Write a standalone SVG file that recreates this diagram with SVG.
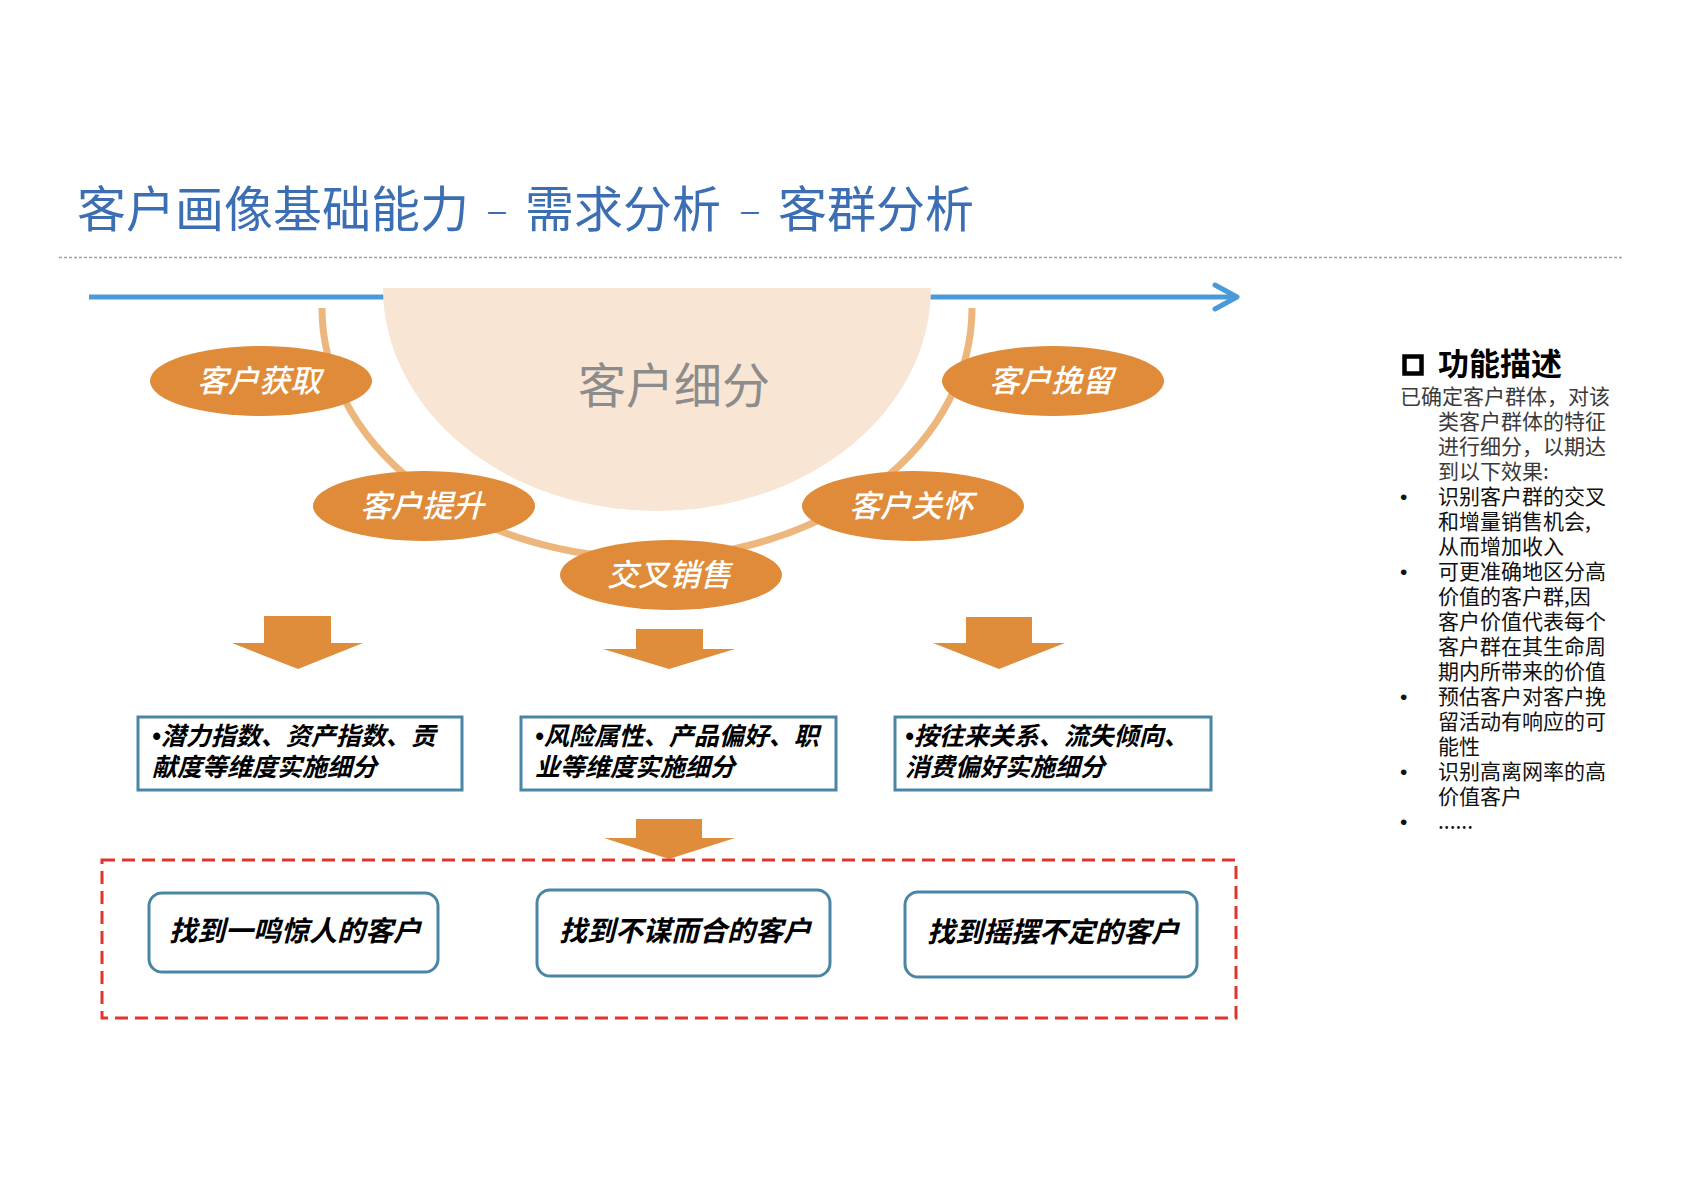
<svg xmlns="http://www.w3.org/2000/svg" width="1684" height="1190" viewBox="0 0 1684 1190">
<style>
.cjk{font-family:'Noto Sans CJK SC','Noto Sans',sans-serif}
.title{font-size:49px;fill:#3c6eb4}
.dash{font-family:'Liberation Sans',sans-serif;font-size:32px;fill:#3c6eb4;text-anchor:middle}
.core{font-size:48px;fill:#8c8c8c}
.oval{fill:#df8b3a}
.ovtxt{font-size:31px;fill:#ffffff;font-style:italic;font-weight:500;text-anchor:middle}
.box{fill:#ffffff;stroke:#4a86a4;stroke-width:3}
.btxt{font-size:25px;font-weight:bold;font-style:italic;fill:#000}
.rtxt{font-size:28px;font-weight:bold;font-style:italic;fill:#000;text-anchor:middle}
.down{fill:#df8c3b}
.desc{font-size:21px;fill:#111}
.desc0{font-size:21px;fill:#3a3a3a}
.bul{font-family:'Liberation Sans',sans-serif}
</style>
<rect width="1684" height="1190" fill="#ffffff"/>
<g id="title">
<text class="cjk title" x="77" y="227">客户画像基础能力</text>
<text class="dash" x="497" y="221">–</text>
<text class="cjk title" x="525" y="227">需求分析</text>
<text class="dash" x="750" y="221">–</text>
<text class="cjk title" x="778" y="227">客群分析</text>
<line x1="59" y1="257.5" x2="1624" y2="257.5" stroke="#a0a0a8" stroke-width="1.5" stroke-dasharray="3 2"/>
</g>
<g id="connectors">
<line x1="89" y1="297" x2="1234" y2="297" stroke="#4b9ad8" stroke-width="5"/>
<polyline points="1215,285 1237,297 1215,309" fill="none" stroke="#4b9ad8" stroke-width="5" stroke-linecap="round" stroke-linejoin="round"/>
<path d="M322,308 A325,250 0 0 0 972,308" fill="none" stroke="#ecb67d" stroke-width="7"/>
<polygon class="down" points="264,616 331,616 331,643 363,643 298,669 232,643 264,643"/>
<polygon class="down" points="636,629 703,629 703,649 735,649 669,669 603,649 636,649"/>
<polygon class="down" points="966,617 1032,617 1032,643 1065,643 999,669 933,643 966,643"/>
<polygon class="down" points="636,819 702,819 702,838 735,838 669,859 604,838 636,838"/>
</g>
<g id="core">
<path d="M383,288 L931,288 A274,223 0 0 1 383,288 Z" fill="#f9e5d4"/>
<text class="cjk core" x="674" y="403" text-anchor="middle">客户细分</text>
</g>
<g id="acquire"><ellipse class="oval" cx="261" cy="381" rx="111" ry="35"/><text class="cjk ovtxt" x="259" y="392">客户获取</text></g>
<g id="upgrade"><ellipse class="oval" cx="424" cy="506" rx="111" ry="35"/><text class="cjk ovtxt" x="422" y="517">客户提升</text></g>
<g id="cross"><ellipse class="oval" cx="671" cy="575" rx="111" ry="35"/><text class="cjk ovtxt" x="669" y="586">交叉销售</text></g>
<g id="care"><ellipse class="oval" cx="913" cy="506" rx="111" ry="35"/><text class="cjk ovtxt" x="911" y="517">客户关怀</text></g>
<g id="retain"><ellipse class="oval" cx="1053" cy="381" rx="111" ry="35"/><text class="cjk ovtxt" x="1051" y="392">客户挽留</text></g>
<g id="box1"><rect class="box" x="138" y="717" width="324" height="73"/>
<text class="cjk btxt"><tspan x="152" y="745"><tspan class="bul">•</tspan>潜力指数、资产指数、贡</tspan><tspan x="152" y="776">献度等维度实施细分</tspan></text></g>
<g id="box2"><rect class="box" x="521" y="717" width="315" height="73"/>
<text class="cjk btxt"><tspan x="535" y="745"><tspan class="bul">•</tspan>风险属性、产品偏好、职</tspan><tspan x="535" y="776">业等维度实施细分</tspan></text></g>
<g id="box3"><rect class="box" x="895" y="717" width="316" height="73"/>
<text class="cjk btxt"><tspan x="905" y="745"><tspan class="bul">•</tspan>按往来关系、流失倾向、</tspan><tspan x="905" y="776">消费偏好实施细分</tspan></text></g>
<g id="result">
<rect x="102" y="860" width="1134" height="158" fill="none" stroke="#e0342c" stroke-width="3" stroke-dasharray="13 7"/>
</g>
<g id="r1"><rect class="box" x="149" y="893" width="289" height="79" rx="13"/><text class="cjk rtxt" x="295" y="941">找到一鸣惊人的客户</text></g>
<g id="r2"><rect class="box" x="537" y="890" width="293" height="86" rx="13"/><text class="cjk rtxt" x="685" y="941">找到不谋而合的客户</text></g>
<g id="r3"><rect class="box" x="905" y="892" width="292" height="85" rx="13"/><text class="cjk rtxt" x="1053" y="942">找到摇摆不定的客户</text></g>
<g id="desc">
<rect x="1404.5" y="356.5" width="17" height="17" fill="none" stroke="#000" stroke-width="4.5"/>
<text class="cjk" x="1438" y="375" font-size="31" font-weight="bold" fill="#000">功能描述</text>
<text class="cjk desc0" x="1400" y="404">已确定客户群体，对该</text>
<text class="cjk desc0" x="1438" y="429">类客户群体的特征</text>
<text class="cjk desc0" x="1438" y="454">进行细分，以期达</text>
<text class="cjk desc0" x="1438" y="479">到以下效果:</text>
<text class="cjk desc" y="504"><tspan class="bul" x="1400">•</tspan><tspan x="1438">识别客户群的交叉</tspan></text>
<text class="cjk desc" x="1438" y="529">和增量销售机会,</text>
<text class="cjk desc" x="1438" y="554">从而增加收入</text>
<text class="cjk desc" y="579"><tspan class="bul" x="1400">•</tspan><tspan x="1438">可更准确地区分高</tspan></text>
<text class="cjk desc" x="1438" y="604">价值的客户群,因</text>
<text class="cjk desc" x="1438" y="629">客户价值代表每个</text>
<text class="cjk desc" x="1438" y="654">客户群在其生命周</text>
<text class="cjk desc" x="1438" y="679">期内所带来的价值</text>
<text class="cjk desc" y="704"><tspan class="bul" x="1400">•</tspan><tspan x="1438">预估客户对客户挽</tspan></text>
<text class="cjk desc" x="1438" y="729">留活动有响应的可</text>
<text class="cjk desc" x="1438" y="754">能性</text>
<text class="cjk desc" y="779"><tspan class="bul" x="1400">•</tspan><tspan x="1438">识别高离网率的高</tspan></text>
<text class="cjk desc" x="1438" y="804">价值客户</text>
<text class="cjk desc" y="829"><tspan class="bul" x="1400">•</tspan><tspan x="1438">......</tspan></text>
</g>
</svg>
